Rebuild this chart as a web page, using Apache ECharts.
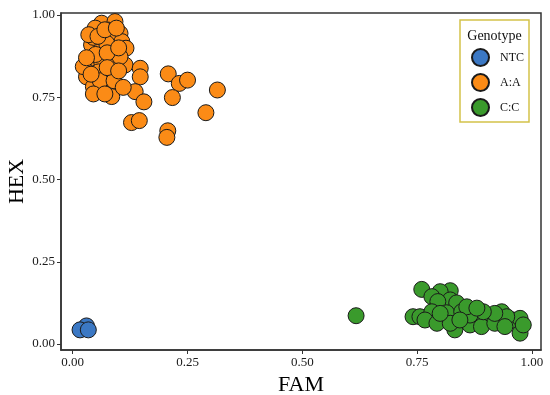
<!DOCTYPE html>
<html>
<head>
<meta charset="utf-8">
<script src="https://cdn.jsdelivr.net/npm/echarts@6/dist/echarts.min.js"></script>
<style>html,body{margin:0;padding:0;background:#fff}#c{width:550px;height:395px}</style>
</head>
<body>
<div id="c"></div>
<script>
var xTicks = [0, 0.25, 0.5, 0.75, 1.0];
var yTicks = [0, 0.25, 0.5, 0.75, 1.0];
var legendNames = ['NTC', 'A:A', 'C:C'];

var ntcFam = [0.030, 0.016, 0.034];
var ntcHex = [0.055, 0.043, 0.043];

var aaFam = [0.063,0.092,0.049,0.078,0.103,0.041,0.063,0.085,0.107,0.116,0.088,0.038,0.063,0.088,0.114,0.030,0.056,0.085,0.045,0.070,0.088,0.085,0.147,0.147,0.136,0.155,0.208,0.232,0.250,0.217,0.315,0.290,0.128,0.145,0.207,0.205,0.045,0.023,0.103,0.074,0.056,0.035,0.055,0.070,0.095,0.050,0.075,0.100,0.030,0.060,0.090,0.075,0.100,0.045,0.070,0.110,0.040];
var aaHex = [0.975,0.980,0.960,0.954,0.944,0.909,0.899,0.929,0.919,0.899,0.884,0.868,0.858,0.848,0.848,0.812,0.818,0.818,0.782,0.787,0.772,0.752,0.838,0.812,0.767,0.736,0.821,0.792,0.802,0.749,0.772,0.703,0.673,0.679,0.648,0.628,0.932,0.843,0.873,0.914,0.827,0.940,0.935,0.955,0.960,0.880,0.885,0.900,0.870,0.800,0.800,0.840,0.830,0.760,0.760,0.780,0.820];

var ccFam = [0.617,0.760,0.822,0.800,0.782,0.822,0.795,0.836,0.741,0.756,0.782,0.814,0.847,0.880,0.905,0.934,0.959,0.974,0.974,0.832,0.865,0.890,0.919,0.767,0.793,0.822,0.945,0.919,0.894,0.865,0.800,0.858,0.880,0.843,0.941,0.981];
var ccHex = [0.086,0.166,0.162,0.159,0.144,0.134,0.129,0.125,0.083,0.083,0.098,0.095,0.098,0.094,0.073,0.098,0.073,0.078,0.033,0.043,0.058,0.053,0.063,0.073,0.063,0.063,0.083,0.093,0.098,0.088,0.093,0.113,0.109,0.073,0.053,0.058];

function pairs(xs, ys){ return xs.map(function(v,i){ return [v, ys[i]]; }); }

var serif = 'Liberation Serif';
var chart = echarts.init(document.getElementById('c'), null, {renderer:'canvas'});
function mk(name, color, xs, ys){
  return {
    name: name, type: 'scatter', data: pairs(xs, ys), symbol: 'circle', symbolSize: 16,
    itemStyle: {color: color, borderColor: '#1a1a1a', borderWidth: 1, opacity: 1},
    emphasis: {disabled: true}, animation: false
  };
}
chart.setOption({
  animation: false,
  grid: {left: 61, right: 9, top: 13, bottom: 45, containLabel: false, outerBoundsMode: 'none', show: true, borderColor: '#333', borderWidth: 1.5, backgroundColor: '#fff'},
  xAxis: {
    type: 'value', min: -0.0255, max: 1.0196,
    name: 'FAM', nameLocation: 'middle', nameGap: 23,
    nameTextStyle: {fontFamily: serif, fontSize: 22, color: '#000'},
    axisLine: {show: true, onZero: false, lineStyle: {color: '#333', width: 1.5}},
    axisTick: {show: true, length: 4, customValues: xTicks, lineStyle: {color: '#333', width: 1}},
    axisLabel: {customValues: xTicks, margin: 6, fontFamily: serif, fontSize: 13, color: '#1a1a1a', formatter: function(v){ return v.toFixed(2); }},
    splitLine: {show: false}
  },
  yAxis: {
    type: 'value', min: -0.0182, max: 1.006,
    name: 'HEX', nameLocation: 'middle', nameGap: 33, nameMoveOverlap: false,
    nameTextStyle: {fontFamily: serif, fontSize: 22, color: '#000'},
    axisLine: {show: true, onZero: false, lineStyle: {color: '#333', width: 1.5}},
    axisTick: {show: true, length: 4, customValues: yTicks, lineStyle: {color: '#333', width: 1}},
    axisLabel: {customValues: yTicks, margin: 6, fontFamily: serif, fontSize: 13, color: '#1a1a1a', formatter: function(v){ return v.toFixed(2); }},
    splitLine: {show: false}
  },
  graphic: [
    {type: 'rect', z: 1, shape: {x: 460, y: 20, width: 69, height: 102}, style: {fill: '#fff', stroke: '#d3c24a', lineWidth: 1.5}},
    {type: 'text', z: 2, style: {x: 494.5, y: 36, text: 'Genotype', align: 'center', verticalAlign: 'middle', fontFamily: serif, fontSize: 14, fill: '#111'}}
  ],
  legend: {
    data: legendNames, orient: 'vertical', left: 460, top: 20,
    padding: [28, 8, 6, 11], itemWidth: 17, itemHeight: 17, itemGap: 6, icon: 'circle',
    textStyle: {fontFamily: serif, fontSize: 12, lineHeight: 17, color: '#111', padding: [0, 0, 0, 6]},
    selectedMode: false, z: 5
  },
  series: [
    mk('NTC', '#3b78c4', ntcFam, ntcHex),
    mk('A:A', '#fb8b16', aaFam, aaHex),
    mk('C:C', '#3a9a2c', ccFam, ccHex)
  ]
});
</script>
</body>
</html>
